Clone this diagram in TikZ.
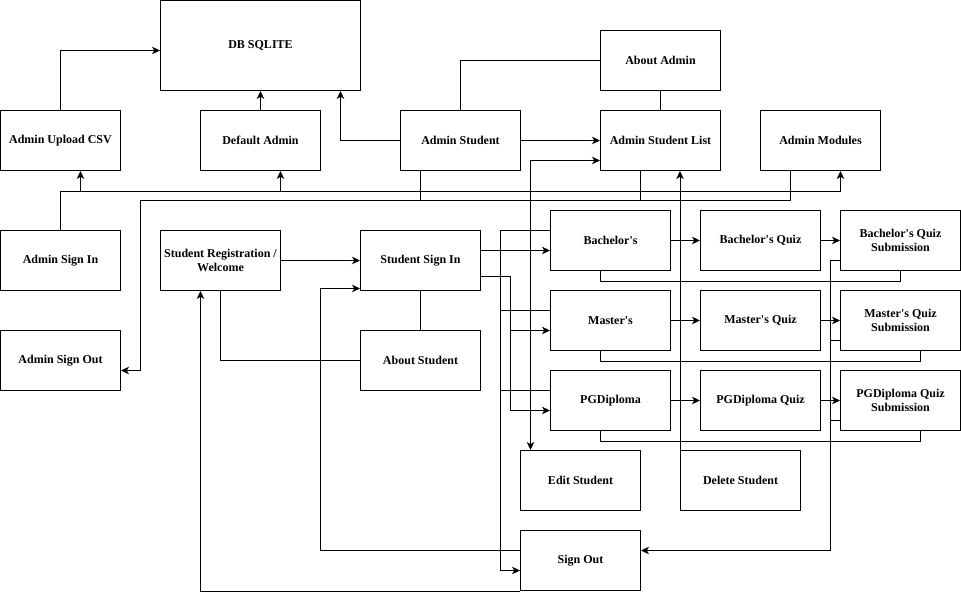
\documentclass[tikz,border=0pt]{standalone}
\usepackage{fontspec}
\setmainfont{Liberation Serif}
\usetikzlibrary{arrows.meta}
\newcommand{\apos}{\textquotesingle}
\begin{document}
\begin{tikzpicture}[x=1pt,y=-1pt,
  box/.style={draw, line width=1pt, minimum width=120pt, minimum height=60pt,
    inner sep=2pt, align=center, font=\fontsize{12}{14}\selectfont\bfseries},
  link/.style={line width=1pt},
  tip/.style={Stealth[length=8pt,width=7.5pt,inset=2.2pt]},
  arr/.style={link, -{Stealth[length=8pt,width=7.5pt,inset=2.2pt]}},
  arrboth/.style={link, {Stealth[length=8pt,width=7.5pt,inset=2.2pt]}-{Stealth[length=8pt,width=7.5pt,inset=2.2pt]}}]
\useasboundingbox (-0.5,-0.5) rectangle (960.5,598.5);

% admin side
\node[box, minimum width=200pt, minimum height=90pt] (db) at (260,45) {DB SQLITE};
\node[box] (csv) at (60,140) {Admin Upload CSV};
\node[box] (defadm) at (260,140) {Default Admin};
\node[box] (adst) at (460,140) {Admin Student};
\node[box] (abadm) at (660,60) {About Admin};
\node[box] (asl) at (660,140) {Admin Student List};
\node[box] (amod) at (820,140) {Admin Modules};
\node[box] (asi) at (60,260) {Admin Sign In};
\node[box] (aso) at (60,360) {Admin Sign Out};

% student side
\node[box] (reg) at (220,260) {Student Registration /\\Welcome};
\node[box] (ssi) at (420,260) {Student Sign In};
\node[box] (abst) at (420,360) {About Student};
\node[box] (bach) at (610,240) {Bachelor\apos s};
\node[box] (mast) at (610,320) {Master\apos s};
\node[box] (pgd) at (610,400) {PGDiploma};
\node[box] (bq) at (760,240) {Bachelor\apos s Quiz};
\node[box] (mq) at (760,320) {Master\apos s Quiz};
\node[box] (pq) at (760,400) {PGDiploma Quiz};
\node[box] (bs) at (900,240) {Bachelor\apos s Quiz\\Submission};
\node[box] (ms) at (900,320) {Master\apos s Quiz\\Submission};
\node[box] (ps) at (900,400) {PGDiploma Quiz\\Submission};
\node[box] (edit) at (580,480) {Edit Student};
\node[box] (del) at (740,480) {Delete Student};
\node[box] (so) at (580,560) {Sign Out};

% links into the database
\draw[arr] (csv.north) |- ([yshift=-5pt]db.west);
\draw[arr] (defadm.north) -- (db.south);
\draw[arr] (adst.west) -| ([xshift=80pt]db.south);

% admin student area
\draw[link] (adst.north) |- (abadm.west);
\draw[link] (abadm.south) -- (asl.north);
\draw[arr] (adst.east) -- (asl.west);

% admin sign in fan-out
\draw[arr] (asi.north) |- ([xshift=20pt,yshift=-20pt]amod.south) -- ([xshift=20pt]amod.south);
\draw[arr] ([xshift=20pt,yshift=-20pt]csv.south) -- ([xshift=20pt]csv.south);
\draw[arr] ([xshift=20pt,yshift=-20pt]defadm.south) -- ([xshift=20pt]defadm.south);

% routes to admin sign out
\draw[arr] ([xshift=-40pt]adst.south) |- (140,200) |- ([yshift=-10pt]aso.east);
\draw[link] ([xshift=-20pt]asl.south) |- (420,200);
\draw[link] ([xshift=-30pt]amod.south) |- (640,200);

% edit / delete student
\draw[arrboth] ([yshift=-20pt]asl.west) -| ([xshift=-50pt]edit.north);
\draw[arr] (del.north west) -- (del.north west |- asl.south);

% student registration and sign in
\draw[arr] (reg.east) -- (ssi.west);
\draw[link] (reg.south) |- (abst.west);
\draw[link] (ssi.south) -- (abst.north);
\draw[arr] ([yshift=10pt]so.west) -| (320,288) -- ([yshift=-28pt]ssi.west);
\draw[arr] (so.south west) -| ([xshift=-20pt]reg.south);

% programmes
\draw[arr] ([yshift=10pt]ssi.east) -- ([yshift=-10pt]bach.west);
\draw[arr] ([yshift=-16pt]ssi.east) -| (510,330) -- ([yshift=-10pt]mast.west);
\draw[arr] ([yshift=-16pt]ssi.east) -| (510,410) -- ([yshift=-10pt]pgd.west);

\draw[arr] ([yshift=10pt]bach.west) -| (500,570) -- ([yshift=-10pt]so.west);
\draw[link] ([yshift=10pt]mast.west) -- (500,310);
\draw[link] ([yshift=10pt]pgd.west) -- (500,390);

% quizzes and submissions
\draw[arr] (bach.east) -- (bq.west);
\draw[arr] (mast.east) -- (mq.west);
\draw[arr] (pgd.east) -- (pq.west);
\draw[arr] (bq.east) -- (bs.west);
\draw[arr] (mq.east) -- (ms.west);
\draw[arr] (pq.east) -- (ps.west);

\draw[link] (bs.south) |- ([xshift=-10pt,yshift=-10pt]bach.south) -- ([xshift=-10pt]bach.south);
\draw[link] ([xshift=20pt]ms.south) |- ([xshift=-10pt,yshift=-10pt]mast.south) -- ([xshift=-10pt]mast.south);
\draw[link] ([xshift=20pt]ps.south) |- ([xshift=-10pt,yshift=-10pt]pgd.south) -- ([xshift=-10pt]pgd.south);

\draw[arr] ([yshift=-20pt]bs.west) -| (830,550) -- ([yshift=10pt]so.east);
\draw[link] ([yshift=-20pt]ms.west) -- (830,340);
\draw[link] ([yshift=-20pt]ps.west) -- (830,420);
\end{tikzpicture}
\end{document}
